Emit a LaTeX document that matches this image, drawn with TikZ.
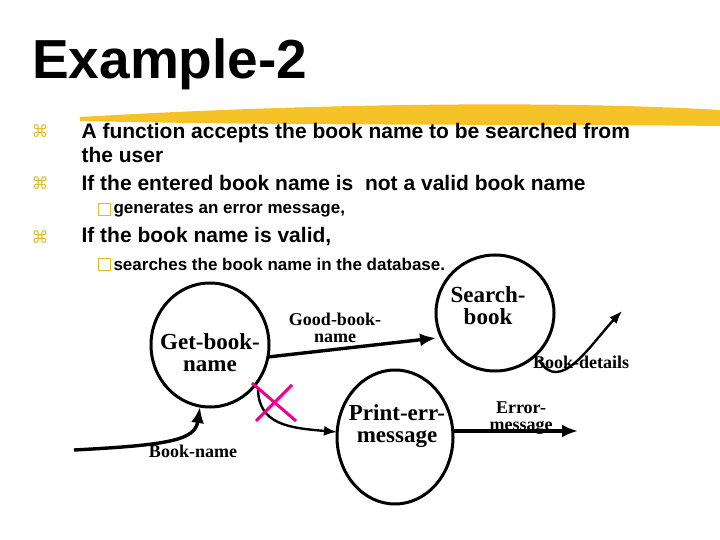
\documentclass[tikz,border=0pt]{standalone}
\usepackage{fontspec}
\setmainfont{Liberation Sans}
\newfontfamily\serf{Liberation Serif}
\newfontfamily\dejav{DejaVu Sans}
\usetikzlibrary{arrows.meta}
\definecolor{bul}{RGB}{225,190,40}
\definecolor{brush}{RGB}{245,195,40}
\begin{document}
\begin{tikzpicture}[x=1pt,y=-1pt,
  lab/.style={font=\serf\bfseries\fontsize{23}{22}\selectfont,align=center},
  slab/.style={font=\serf\bfseries\fontsize{18}{17}\selectfont,align=center},
  flow/.style={line width=3.4pt,-{Latex[length=16pt,width=13pt]}},
  thin/.style={line width=2.4pt,-{Latex[length=13pt,width=10pt]}},
  btxt/.style={anchor=west,font=\bfseries\fontsize{21}{24}\selectfont,align=left},
  stxt/.style={anchor=west,font=\bfseries\fontsize{17}{20}\selectfont},
  bmark/.style={text=bul,font=\dejav\fontsize{17}{17}\selectfont},
  smark/.style={draw=bul,line width=1pt,minimum size=12pt,inner sep=0}]
\useasboundingbox (0,0) rectangle (720,540);
\fill[brush] (80,117) .. controls (300,104) and (550,100) .. (720,110) -- (720,126) .. controls (550,124) and (300,126) .. (80,121) -- cycle;
\node[anchor=west,font=\bfseries\fontsize{55}{55}\selectfont,inner sep=0] (title) at (32,64) {Example-2};
\node[bmark] (b1) at (40,131) {⌘};
\node[btxt] (t1) at (78,143) {A function accepts the book name to be searched from\\the user};
\node[bmark] (b2) at (40,183) {⌘};
\node[btxt] (t2) at (78,183) {If the entered book name is\ \ not a valid book name};
\node[smark] (s1) at (104,210) {};
\node[stxt] (t3) at (110,210) {generates an error message,};
\node[bmark] (b3) at (40,237) {⌘};
\node[btxt] (t4) at (78,237) {If the book name is valid,};
\node[smark] (s2) at (104,264) {};
\node[stxt] (t5) at (110,264) {searches the book name in the database.};
% ellipses
\draw[line width=3pt] (210,345) ellipse [x radius=59, y radius=62];
\node[lab] (gb) at (210,353) {Get-book-\\name};
\coordinate (gbr) at (268,357);
\coordinate (gbb) at (200,407);
\coordinate (gbe) at (258,388);
\draw[line width=3pt] (495,313) ellipse [x radius=59, y radius=58];
\node[lab] (sb) at (488,306) {Search-\\book};
\coordinate (sbl) at (436,338);
\coordinate (sbe) at (539,360);
\draw[line width=3pt] (395,437) ellipse [x radius=58, y radius=67];
\node[lab] (pe) at (397,426) {Print-err-\\message};
\coordinate (pel) at (337,432);
\coordinate (per) at (453,431);
\coordinate (in) at (74,450);
\coordinate (bd) at (622,311);
\coordinate (em) at (578,431);
\draw[flow] (in) .. controls (170,445) and (195,440) .. (gbb);
\draw[flow] (gbr) -- (sbl);
\draw[thin] (gbe) .. controls (258,425) and (290,428) .. (pel);
\draw[thin] (sbe) .. controls (560,395) and (590,345) .. (bd);
\draw[flow] (per) -- (em);
\draw[magenta,line width=3pt] (252,383) -- (296,421) (256,421) -- (292,385);
\node[slab] (l1) at (193,451) {Book-name};
\node[slab] (l2) at (335,328) {Good-book-\\name};
\node[slab] (l3) at (581,362) {Book-details};
\node[slab] (l4) at (521,418) {Error-\\message};
\end{tikzpicture}
\end{document}
